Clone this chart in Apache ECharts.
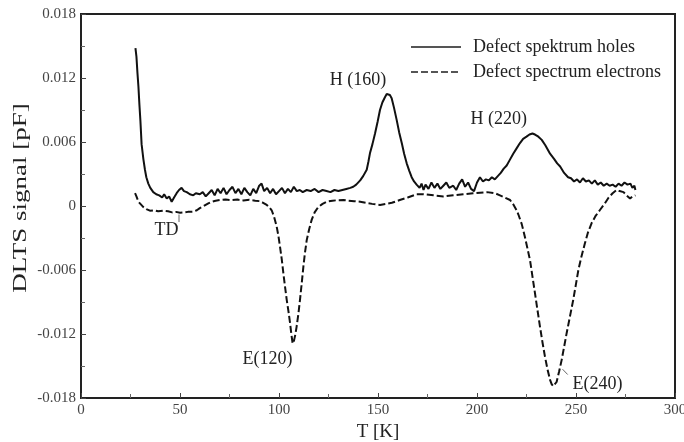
<!DOCTYPE html>
<html>
<head>
<meta charset="utf-8">
<script src="https://cdn.jsdelivr.net/npm/echarts@6/dist/echarts.min.js"></script>
<style>
html,body{margin:0;padding:0;background:#fff;}
#main{width:684px;height:442px;}
</style>
</head>
<body>
<div id="main"></div>
<script>
// ---- Data (T in K, DLTS signal in pF) ----
var seriesNames = ['Defect spektrum holes', 'Defect spectrum electrons'];
var holesT = [27.5,28,28.5,29,29.5,30,30.6,31.5,32.3,33,34,35,36.5,38,39.5,41,42,43.3,44.5,45.8,47,48.3,49.5,50.8,52,53.4,55,56.7,58,60,61.5,63,64.5,66,67.5,69,70.5,72,73.5,75,76.5,78,79.5,81,82.5,84,85.5,87,88.5,90,91.2,92.5,94,95.5,97,98.5,100,101.5,103,104.5,106,107.5,109,110.5,112,114,116,118,120,122,124,126,128,130,132,134,136,137.5,139,141,142.5,144.3,145.2,146,147.2,148.5,149.8,151,152.2,153.5,154.4,155.2,156,156.9,158.1,159.4,160.7,162,163.2,164.5,165.8,167,168.2,169.5,171,172,173,174,175.5,177,178.5,180,181.5,183,184.5,186,188,189.5,191,192.5,194,195.5,197,198.5,200,201.5,203,204.5,206,207.5,209,210.5,212,213.5,215,216.5,218.3,220,221.7,223.3,225,226.5,228,229.3,231,232.7,234.5,236.9,239,240.5,242,244,246,247.5,249,250.5,252,253.5,255,256.5,258,259.5,261,262.5,264,265.5,267,268.5,270,271.5,273,274.5,276,277.5,278.5,279.5,280];
var holesV = [0.0148,0.0140,0.0125,0.0112,0.0095,0.0080,0.0058,0.0044,0.0034,0.0027,0.0021,0.0017,0.0013,0.0011,0.0010,0.0008,0.0011,0.0007,0.0009,0.0004,0.0008,0.0012,0.0015,0.0017,0.0014,0.0013,0.0011,0.0010,0.0012,0.0011,0.0013,0.0009,0.0012,0.0015,0.0010,0.0016,0.0012,0.0017,0.0011,0.0015,0.0018,0.0012,0.0016,0.0011,0.0017,0.0013,0.0010,0.0016,0.0012,0.0019,0.0021,0.0014,0.0017,0.0012,0.0016,0.0011,0.0014,0.0017,0.0012,0.0016,0.0013,0.0018,0.0014,0.0015,0.0013,0.0015,0.0014,0.0016,0.0013,0.0015,0.0014,0.0013,0.0015,0.0014,0.0015,0.0016,0.0017,0.0018,0.0020,0.0024,0.0028,0.0034,0.0042,0.0050,0.0058,0.0068,0.0079,0.0090,0.0097,0.0102,0.0105,0.01057,0.0104,0.0101,0.0092,0.0081,0.0069,0.0059,0.0049,0.0040,0.0033,0.0027,0.0023,0.0020,0.0017,0.0021,0.0015,0.0020,0.0016,0.0022,0.0017,0.0021,0.0016,0.0019,0.0022,0.0017,0.0019,0.0015,0.0021,0.0025,0.0018,0.0022,0.0016,0.0014,0.0022,0.0027,0.0023,0.0025,0.0024,0.0027,0.0025,0.0028,0.0031,0.0035,0.0038,0.0043,0.0049,0.0054,0.0059,0.0063,0.0065,0.0067,0.0068,0.0067,0.0065,0.0062,0.0057,0.0049,0.0044,0.0040,0.0037,0.0031,0.0027,0.0026,0.0023,0.0025,0.0022,0.0026,0.0023,0.0024,0.0021,0.0024,0.0020,0.0022,0.0019,0.0021,0.0019,0.0020,0.0018,0.0021,0.0019,0.0022,0.0020,0.0021,0.0017,0.0019,0.0015];
var electronsT = [27.3,28,29,30,31.5,33,34.8,37,39,41.6,44,46,48,50,52,54,56.7,58.5,60,62,64.3,66,68,70.2,73,76,79,82,85,88,90.4,92,93.8,95,96.3,97.5,98.8,99.7,100.5,101.4,102.2,103,103.9,104.8,105.6,106.3,106.9,107.6,108.3,108.9,109.8,110.6,111.5,112.3,113.1,114,115.2,116.5,118,119.8,122,124,127,130,132.5,135,138,141,144,147,151,154,157,161,165,169.5,173,178,183,188,193,198,205,209,211.6,214,216.7,218.5,220,220.9,222.6,224.2,225.5,226.8,228,229.3,230.5,231.8,233,234.3,235.6,236.9,237.7,238.5,239.3,240.2,241.5,242.8,244,245.3,247,248.6,250,251.2,252.8,254.5,256,257.9,260,262,264.6,266.5,268.5,270.5,272,274,275.5,277.3,278.5,280];
var electronsV = [0.0012,0.0009,0.0004,0.0002,-0.0001,-0.0003,-0.00044,-0.0004,-0.0005,-0.00044,-0.0005,-0.0006,-0.00055,-0.00063,-0.0006,-0.00055,-0.00053,-0.0004,-0.0002,0.0000,0.00025,0.0004,0.0005,0.00056,0.0006,0.00055,0.0006,0.00052,0.00058,0.0005,0.00045,0.0003,0.0001,-0.0001,-0.0004,-0.0010,-0.0019,-0.0028,-0.0038,-0.0050,-0.0063,-0.0075,-0.0088,-0.0099,-0.0110,-0.0121,-0.0129,-0.0126,-0.0120,-0.0113,-0.0101,-0.0088,-0.0072,-0.0057,-0.0044,-0.0032,-0.0022,-0.0013,-0.0006,-0.0001,0.0002,0.0004,0.0005,0.00055,0.00056,0.0005,0.00045,0.0004,0.0003,0.0002,0.0001,0.0002,0.0003,0.00056,0.0008,0.0011,0.0011,0.0010,0.0009,0.0010,0.0011,0.0012,0.0013,0.0012,0.0010,0.0008,0.00056,0.0001,-0.0004,-0.0008,-0.0017,-0.0029,-0.0040,-0.0051,-0.0066,-0.0082,-0.0097,-0.0113,-0.0127,-0.0141,-0.0153,-0.0163,-0.0167,-0.0169,-0.0168,-0.0165,-0.0155,-0.0144,-0.0132,-0.0119,-0.0103,-0.0088,-0.0073,-0.0060,-0.0047,-0.0035,-0.0025,-0.0016,-0.0009,-0.0004,0.00025,0.0008,0.0012,0.0015,0.0014,0.0013,0.0010,0.0007,0.0009,0.0010];
var xTicks = [0, 50, 100, 150, 200, 250, 300];
var yTicks = [-0.018, -0.012, -0.006, 0, 0.006, 0.012, 0.018];
var xName = 'T [K]';
var yName = 'DLTS signal [pF]';
var annotationText = ['H (160)', 'H (220)', 'TD', 'E(120)', 'E(240)'];
var annotationT = [139.9, 211, 43.2, 94.2, 260.9];
var annotationV = [0.0118, 0.0081, -0.00225, -0.0144, -0.0167];
// leader lines [T1, v1, T2, v2]
var leaders = [[49.5, -0.0008, 49.5, -0.0015], [243.2, -0.0153, 245.8, -0.0158]];

function zip(a, b) { return a.map(function (t, i) { return [t, b[i]]; }); }

var serif = '"Liberation Serif", "Times New Roman", serif';
var chart = echarts.init(document.getElementById('main'), null, { renderer: 'canvas' });
var axisColor = '#222';
var option = {
  animation: false,
  backgroundColor: '#fff',
  grid: { left: 81, top: 14, right: 9, bottom: 44, show: true, borderColor: axisColor, borderWidth: 2,
    containLabel: false, outerBoundsMode: 'none' },
  legend: {
    orient: 'vertical', left: 405, top: 33, itemWidth: 50, itemHeight: 18, itemGap: 7,
    data: seriesNames,
    itemStyle: { opacity: 0 },
    lineStyle: { color: '#555', width: 2 },
    textStyle: { fontFamily: serif, fontSize: 18, color: '#222', padding: [0, 0, 0, 7] }
  },
  xAxis: {
    type: 'value', min: xTicks[0], max: xTicks[xTicks.length - 1], interval: 50,
    name: xName, nameLocation: 'middle', nameGap: 22,
    nameTextStyle: { fontFamily: serif, fontSize: 19, color: '#222', verticalAlign: 'top' },
    axisLine: { show: true, onZero: false, lineStyle: { color: axisColor, width: 2 } },
    axisTick: { show: true, inside: true, length: 5, lineStyle: { color: '#444' } },
    minorTick: { show: true, splitNumber: 2, length: 4, lineStyle: { color: '#666' } },
    axisLabel: { fontFamily: serif, fontSize: 15, color: '#444', margin: 5 },
    splitLine: { show: false }
  },
  yAxis: {
    type: 'value', min: yTicks[0], max: yTicks[yTicks.length - 1], interval: 0.006,
    axisLine: { show: true, onZero: false, lineStyle: { color: axisColor, width: 2 } },
    axisTick: { show: true, inside: true, length: 5, lineStyle: { color: '#444' } },
    minorTick: { show: true, splitNumber: 2, length: 4, lineStyle: { color: '#666' } },
    axisLabel: { fontFamily: serif, fontSize: 15, color: '#444', margin: 5,
      formatter: function (v) { var r = Math.round(v * 1000) / 1000; return r === 0 ? '0' : String(r); } },
    splitLine: { show: false }
  },
  series: [
    { name: seriesNames[0], type: 'line', data: zip(holesT, holesV), showSymbol: false, symbol: 'none',
      lineStyle: { color: '#111', width: 2 }, itemStyle: { color: '#555' } },
    { name: seriesNames[1], type: 'line', data: zip(electronsT, electronsV), showSymbol: false, symbol: 'none',
      lineStyle: { color: '#111', width: 2, type: [7, 3] }, itemStyle: { color: '#555' } }
  ]
};
chart.setOption(option);

var g = [];
annotationText.forEach(function (txt, i) {
  var p = chart.convertToPixel({ gridIndex: 0 }, [annotationT[i], annotationV[i]]);
  g.push({ type: 'text', x: p[0], y: p[1], style: { text: txt, fontFamily: serif, fontSize: 18, fill: '#222', align: 'center', verticalAlign: 'middle' } });
});
leaders.forEach(function (l) {
  var a = chart.convertToPixel({ gridIndex: 0 }, [l[0], l[1]]);
  var b = chart.convertToPixel({ gridIndex: 0 }, [l[2], l[3]]);
  g.push({ type: 'line', shape: { x1: a[0], y1: a[1], x2: b[0], y2: b[1] }, style: { stroke: '#666', lineWidth: 1 } });
});
// y-axis title (stretched along its length like the reference)
var yTopPx = chart.convertToPixel({ gridIndex: 0 }, [0, yTicks[yTicks.length - 1]]);
var yBotPx = chart.convertToPixel({ gridIndex: 0 }, [0, yTicks[0]]);
g.push({ type: 'text', x: 21, y: (yTopPx[1] + yBotPx[1]) / 2 - 8, rotation: Math.PI / 2, scaleX: 1.5,
  style: { text: yName, fontFamily: serif, fontSize: 18, fill: '#222', align: 'center', verticalAlign: 'middle' } });
chart.setOption({ graphic: g });
</script>
</body>
</html>
